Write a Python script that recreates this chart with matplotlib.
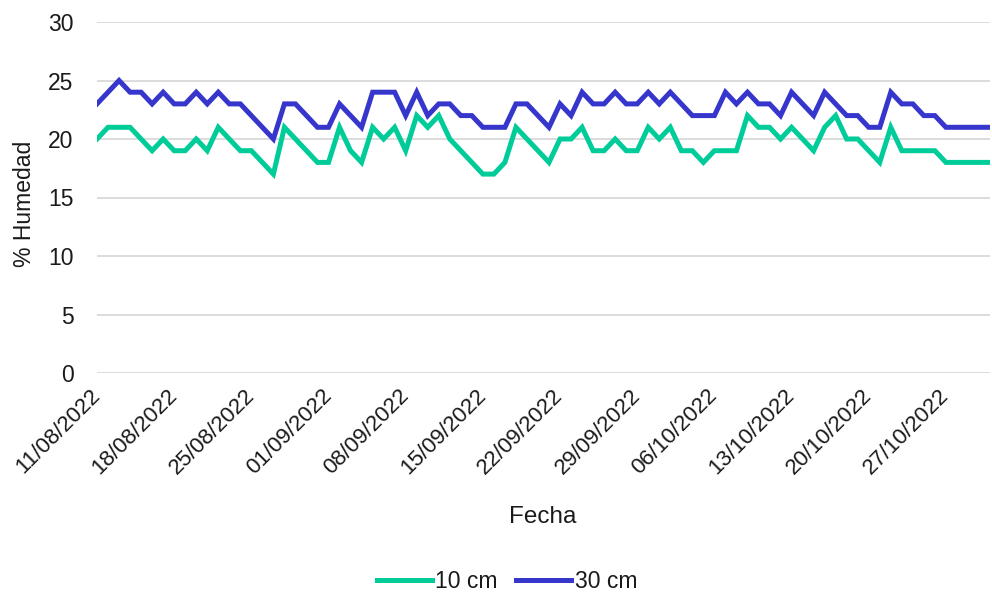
import numpy as np
import pandas as pd
import matplotlib
matplotlib.use("Agg")
import matplotlib.pyplot as plt
import matplotlib.dates as mdates

plt.rcParams['font.family'] = ['Liberation Sans', 'DejaVu Sans']

# daily readings from 11/08/2022 to 31/10/2022
start_date = "2022-08-11"
hum_10cm = [20, 21, 21, 21, 20, 19, 20, 19, 19, 20, 19, 21, 20, 19, 19, 18, 17, 21, 20, 19,
            18, 18, 21, 19, 18, 21, 20, 21, 19, 22, 21, 22, 20, 19, 18, 17, 17, 18, 21, 20,
            19, 18, 20, 20, 21, 19, 19, 20, 19, 19, 21, 20, 21, 19, 19, 18, 19, 19, 19, 22,
            21, 21, 20, 21, 20, 19, 21, 22, 20, 20, 19, 18, 21, 19, 19, 19, 19, 18, 18, 18,
            18, 18]
hum_30cm = [23, 24, 25, 24, 24, 23, 24, 23, 23, 24, 23, 24, 23, 23, 22, 21, 20, 23, 23, 22,
            21, 21, 23, 22, 21, 24, 24, 24, 22, 24, 22, 23, 23, 22, 22, 21, 21, 21, 23, 23,
            22, 21, 23, 22, 24, 23, 23, 24, 23, 23, 24, 23, 24, 23, 22, 22, 22, 24, 23, 24,
            23, 23, 22, 24, 23, 22, 24, 23, 22, 22, 21, 21, 24, 23, 23, 22, 22, 21, 21, 21,
            21, 21]
series_labels = ["10 cm", "30 cm"]
series_colors = ["#00CC99", "#3636CC"]

fs = 16.5
txt_col = '#1a1a1a'

dates = pd.date_range(start_date, periods=len(hum_10cm), freq="D")

fig = plt.figure(figsize=(9.92, 5.95), dpi=100)
ax = fig.add_axes([97 / 992, 1 - 373 / 595, (990 - 97) / 992, (373 - 22) / 595])

for vals, lab, col in zip([hum_10cm, hum_30cm], series_labels, series_colors):
    ax.plot(dates, vals, color=col, lw=3.6, label=lab, solid_joinstyle='miter')

ax.set_ylim(0, 30)
ax.set_yticks(range(0, 31, 5))
ax.set_xlim(dates[0], dates[-1])
ax.set_xticks(pd.date_range(start_date, dates[-1], freq="7D"))
ax.xaxis.set_major_formatter(mdates.DateFormatter("%d/%m/%Y"))

ax.grid(axis='y', color='#d9d9d9', lw=1.3)
ax.set_axisbelow(True)
for s in ax.spines.values():
    s.set_visible(False)
ax.tick_params(axis='both', length=0, labelsize=fs, colors=txt_col)
ax.tick_params(axis='x', labelsize=16, pad=14)
ax.tick_params(axis='y', pad=17)

for lbl in ax.get_xticklabels():
    lbl.set_rotation(45)
    lbl.set_ha('right')
    lbl.set_va('center')
    lbl.set_rotation_mode('anchor')

fig.text(25 / 992, 1 - 204 / 595, "% Humedad", rotation=90, ha='center', va='center',
         fontsize=fs, color=txt_col)
fig.text(543 / 992, 1 - 517 / 595, "Fecha", ha='center', va='center', fontsize=fs + 1,
         color=txt_col)

fig.legend(loc='center', bbox_to_anchor=(507 / 992, 1 - 582 / 595), ncol=2, frameon=False,
           fontsize=fs, handlelength=2.4, handletextpad=0.15, columnspacing=0.8,
           labelcolor=txt_col)

fig.savefig("out.png", dpi=100)
